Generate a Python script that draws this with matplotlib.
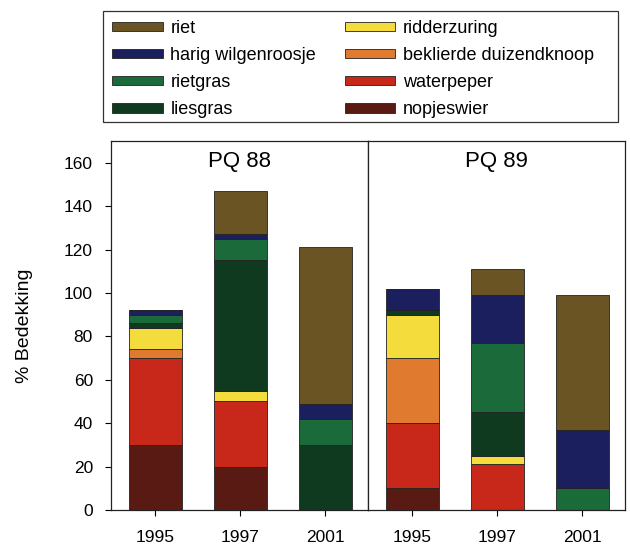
import matplotlib
matplotlib.use("Agg")
import matplotlib.pyplot as plt
from matplotlib.patches import Rectangle
import numpy as np

plt.rcParams['font.family'] = ['Liberation Sans', 'DejaVu Sans']

years = ["1995", "1997", "2001"]
panels = ["PQ 88", "PQ 89"]
# stacking order bottom -> top
species = ["nopjeswier", "waterpeper", "beklierde duizendknoop", "ridderzuring",
           "liesgras", "rietgras", "harig wilgenroosje", "riet"]
colors = ["#5a1a14", "#c8281a", "#e07a2e", "#f3dc3c",
          "#0f3a20", "#1a6a3a", "#1c1f5e", "#6b5424"]

pq88 = {
    "nopjeswier":             [30, 20, 0],
    "waterpeper":             [40, 30, 0],
    "beklierde duizendknoop": [4, 0, 0],
    "ridderzuring":           [10, 5, 0],
    "liesgras":               [2, 60, 30],
    "rietgras":               [4, 10, 12],
    "harig wilgenroosje":     [2, 2, 7],
    "riet":                   [0, 20, 72],
}
pq89 = {
    "nopjeswier":             [10, 0, 0],
    "waterpeper":             [30, 21, 0],
    "beklierde duizendknoop": [30, 0, 0],
    "ridderzuring":           [20, 4, 0],
    "liesgras":               [2, 20, 0],
    "rietgras":               [0, 32, 10],
    "harig wilgenroosje":     [10, 22, 27],
    "riet":                   [0, 12, 62],
}
data = [pq88, pq89]

W, H = 630, 545
fig = plt.figure(figsize=(W / 100, H / 100), dpi=100)

left0, mid, right0 = 111, 368, 625
top, bottom = 141, 510
ax1 = fig.add_axes([left0 / W, (H - bottom) / H, (mid - left0) / W, (bottom - top) / H])
ax2 = fig.add_axes([mid / W, (H - bottom) / H, (right0 - mid) / W, (bottom - top) / H], sharey=ax1)

x = np.arange(len(years))
handles = {}
for ax, d, title in zip([ax1, ax2], data, panels):
    base = np.zeros(len(years))
    for sp, c in zip(species, colors):
        vals = np.array(d[sp], dtype=float)
        b = ax.bar(x, vals, width=0.62, bottom=base, color=c,
                   edgecolor="#222222", linewidth=0.6, label=sp)
        handles[sp] = b
        base += vals
    ax.set_xlim(-0.52, 2.5)
    ax.set_ylim(0, 170)
    ax.set_xticks(x)
    ax.set_xticklabels(years)
    ax.text(0.5, 0.972, title, transform=ax.transAxes, ha="center", va="top", fontsize=16)
    ax.tick_params(direction="out", length=4, width=0.8, labelsize=12.5, pad=9)
    ax.tick_params(axis="x", pad=10.5)
    for s in ax.spines.values():
        s.set_linewidth(0.9)
        s.set_color("#222222")

ax1.set_yticks(np.arange(0, 161, 20))
ax1.set_ylabel("% Bedekking", fontsize=14, labelpad=22)
ax2.tick_params(axis="y", left=False, labelleft=False)

legend_order = ["riet", "harig wilgenroosje", "rietgras", "liesgras",
                "ridderzuring", "beklierde duizendknoop", "waterpeper", "nopjeswier"]
leg = fig.legend([handles[s] for s in legend_order], legend_order, ncol=2,
                 loc="upper left",
                 bbox_to_anchor=(104 / W, (H - 12) / H),
                 fontsize=13, handlelength=2.8, handleheight=0.4,
                 labelspacing=0.56, handletextpad=0.42, borderpad=0.45,
                 columnspacing=1.6, borderaxespad=0, frameon=False)
# legend frame
fig.patches.append(Rectangle((103 / W, (H - 122) / H), 515 / W, 111 / H,
                             transform=fig.transFigure, facecolor="none",
                             edgecolor="#333333", linewidth=0.9))

fig.savefig("out.png", dpi=100)
